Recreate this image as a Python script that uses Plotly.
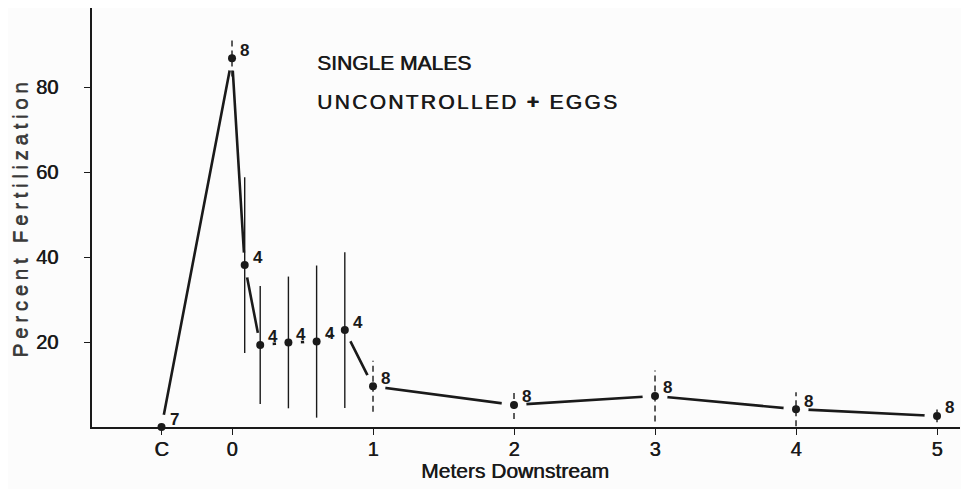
import plotly.graph_objects as go

# Data
x_vals = [-0.5, 0, 0.09, 0.2, 0.4, 0.6, 0.8, 1, 2, 3, 4, 5]
y_vals = [0, 86.8, 38.1, 19.3, 19.9, 20.1, 22.8, 9.6, 5.2, 7.3, 4.2, 2.6]
err_vals = [0, 4.3, 20.7, 13.9, 15.5, 17.9, 18.3, 6.0, 3.3, 6.0, 4.0, 1.5]
n_vals = [7, 8, 4, 4, 4, 4, 4, 8, 8, 8, 8, 8]
dashed_err = [False, True, False, False, False, False, False, True, True, True, True, True]
tick_vals = [-0.5, 0, 1, 2, 3, 4, 5]
tick_text = ["C", "0", "1", "2", "3", "4", "5"]
y_tick_vals = [20, 40, 60, 80]

BG = "#fcfcfc"
INK = "#1a1a1a"
FONT = "Liberation Sans, Arial, Helvetica, sans-serif"
HEAVY = "0.6px 0px 0px #1a1a1a"
HEAVY_GREY = "0px 0.6px 0px #3a3a3a"

fig = go.Figure()

# Connecting line
fig.add_trace(go.Scatter(
    x=x_vals, y=y_vals, mode="lines",
    line=dict(color=INK, width=2.6), showlegend=False, hoverinfo="skip"))

# Background-coloured halo to create gaps between line and markers
fig.add_trace(go.Scatter(
    x=x_vals, y=y_vals, mode="markers",
    marker=dict(color=BG, size=25, opacity=1, line=dict(width=0)),
    showlegend=False, hoverinfo="skip"))

# Error bars (solid and dashed groups)
for want_dash in (False, True):
    ex, ey = [], []
    for xv, yv, ev, dv in zip(x_vals, y_vals, err_vals, dashed_err):
        if ev > 0 and dv == want_dash:
            ex += [xv, xv, None]
            ey += [yv - ev, yv + ev, None]
    fig.add_trace(go.Scatter(
        x=ex, y=ey, mode="lines",
        line=dict(color=INK, width=1.4, dash="6px,4px" if want_dash else "solid"),
        hoverinfo="skip", showlegend=False))

# Markers
fig.add_trace(go.Scatter(
    x=x_vals, y=y_vals, mode="markers",
    marker=dict(color=INK, size=8, line=dict(width=0)),
    showlegend=False, cliponaxis=False))

# Sample-size labels
for xv, yv, nv in zip(x_vals, y_vals, n_vals):
    fig.add_annotation(x=xv, y=yv, text=f"<b>{nv}</b>", showarrow=False,
                       xanchor="left", yanchor="middle", xshift=6, yshift=8,
                       font=dict(family=FONT, size=17, color=INK))

fig.add_annotation(xref="paper", yref="paper", x=0.2565, y=0.869,
                   text="SINGLE MALES",
                   showarrow=False, xanchor="left", yanchor="middle", align="left",
                   font=dict(family=FONT, size=21, color=INK, shadow=HEAVY))
fig.add_annotation(xref="paper", yref="paper", x=0.2565, y=0.778,
                   text="UNCONTROLLED <b>+</b> EGGS",
                   showarrow=False, xanchor="left", yanchor="middle", align="left",
                   font=dict(family=FONT, size=21, color=INK, shadow=HEAVY))

# x-axis title placed as annotation (slightly left of centre as in reference)
fig.add_annotation(xref="paper", yref="paper", x=0.4873, y=-0.105,
                   text="Meters Downstream", showarrow=False,
                   xanchor="center", yanchor="middle",
                   font=dict(family=FONT, size=21, color=INK, shadow=HEAVY))

fig.update_layout(
    width=969, height=489,
    margin=dict(l=84, r=17, t=0, b=70),
    paper_bgcolor=BG, plot_bgcolor=BG,
    font=dict(family=FONT, color=INK),
    xaxis=dict(range=[-0.993, 5.163], tickmode="array", tickvals=tick_vals, ticktext=tick_text,
               showgrid=False, zeroline=False, showline=True, linecolor=INK, linewidth=1.5,
               ticks="outside", ticklen=6, tickwidth=1.3, tickcolor=INK,
               tickfont=dict(size=20, color=INK, shadow=HEAVY), ticklabelstandoff=-3),
    yaxis=dict(range=[0, 98.6], tickmode="array", tickvals=y_tick_vals,
               showgrid=False, zeroline=False, showline=True, linecolor=INK, linewidth=1.5,
               ticks="outside", ticklen=6, tickwidth=1.3, tickcolor=INK,
               tickfont=dict(size=20, color=INK, shadow=HEAVY), ticklabelstandoff=22,
               title=dict(text="Percent Fertilization",
                          font=dict(size=21, color="#3a3a3a", shadow=HEAVY_GREY), standoff=8)),
)

post = """
document.querySelectorAll('.ytitle').forEach(function(e){e.style.letterSpacing='4.5px';});
document.querySelectorAll('.annotation-text').forEach(function(e){
  if (e.textContent.indexOf('UNCONTROLLED') === 0) { e.style.letterSpacing='2.3px'; }
});
"""
fig.write_html("out.html", post_script=post)
